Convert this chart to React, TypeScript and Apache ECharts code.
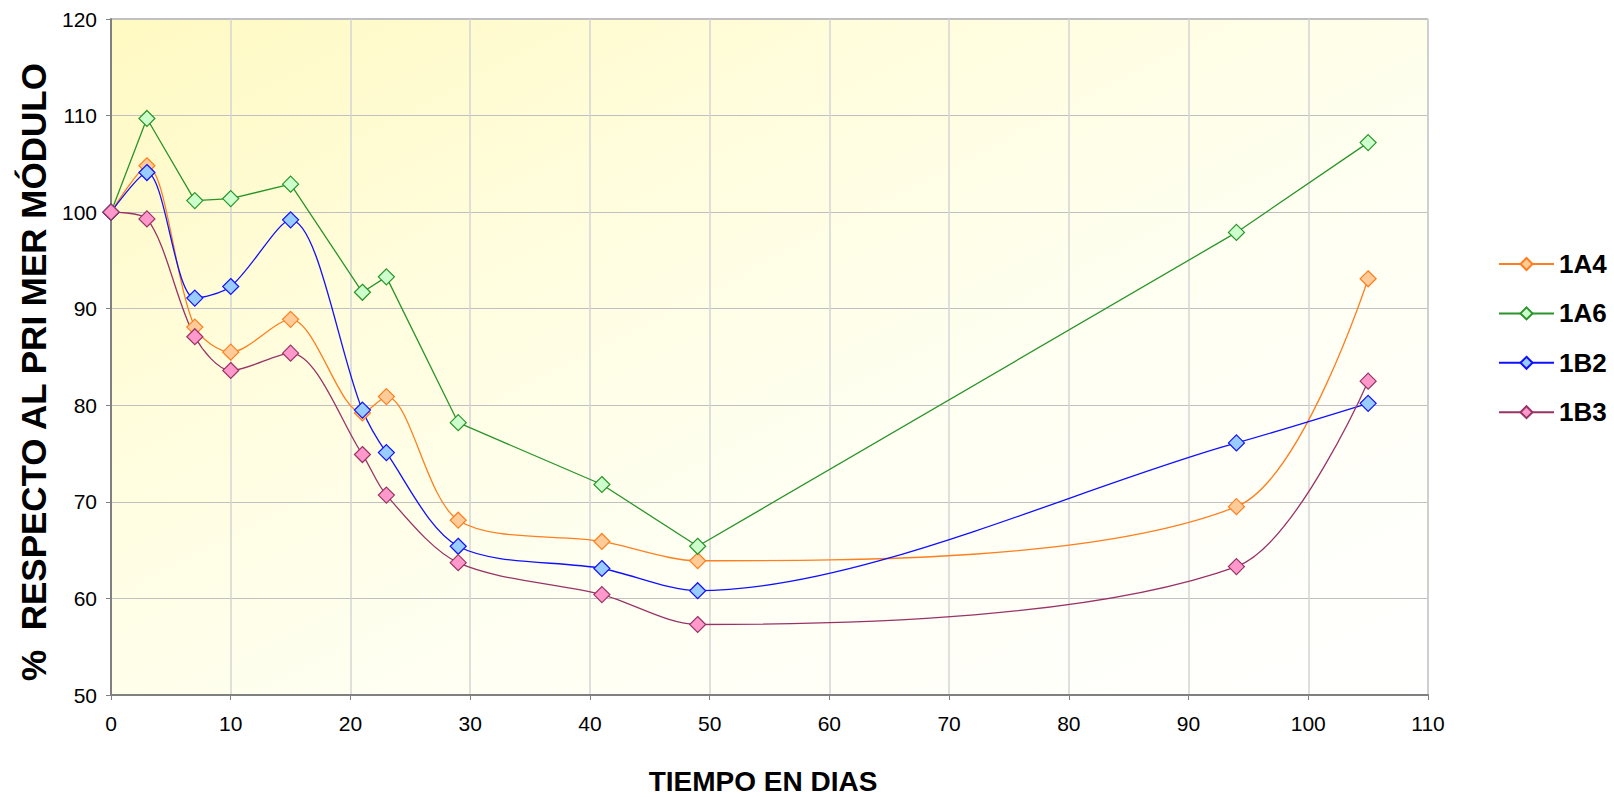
import React, { useEffect, useRef } from "react";
import * as echarts from "echarts";

const days = [0, 3, 7, 10, 15, 21, 23, 29, 41, 49, 94, 105];
const s1A4 = [100, 104.8, 88.1, 85.5, 88.9, 79.2, 80.9, 68.1, 65.9, 63.9, 69.5, 93.1];
const s1A6 = [100, 109.7, 101.2, 101.4, 102.9, 91.7, 93.3, 78.2, 71.8, 65.4, 97.9, 107.2];
const s1B2 = [100, 104.1, 91.1, 92.3, 99.2, 79.5, 75.1, 65.4, 63.1, 60.8, 76.1, 80.2];
const s1B3 = [100, 99.3, 87.1, 83.6, 85.4, 74.9, 70.7, 63.7, 60.4, 57.3, 63.3, 82.5];
const seriesNames = ["1A4", "1A6", "1B2", "1B3"];
const xTitle = "TIEMPO EN DIAS";
const yTitle = "%  RESPECTO AL PRI MER MÓDULO";

const FONT = '"Liberation Sans", Arial, sans-serif';

export default function App() {
  const ref = useRef<HTMLDivElement>(null);
  useEffect(() => {
    if (!ref.current) return;
    const chart = echarts.init(ref.current, null, { renderer: "svg" });
    const pair = (vals: number[]) => days.map((d, i) => [d, vals[i]]);
    const styles = [
      { line: "#FF7F1E", fill: "#FFCC99", border: "#FF7F1E", smooth: true, data: s1A4 },
      { line: "#2A942A", fill: "#CCFFCC", border: "#2A942A", smooth: false, data: s1A6 },
      { line: "#1010FF", fill: "#99CCFF", border: "#1010FF", smooth: true, data: s1B2 },
      { line: "#993366", fill: "#FF99CC", border: "#993366", smooth: true, data: s1B3 },
    ];
    chart.setOption({
      animation: false,
      backgroundColor: "#FFFFFF",
      grid: {
        left: 111,
        right: 186,
        top: 19,
        bottom: 102,
        show: true,
        borderColor: "#808080",
        borderWidth: 1,
        backgroundColor: new echarts.graphic.LinearGradient(0, 0, 1, 1, [
          { offset: 0, color: "#FFF9C2" },
          { offset: 0.3, color: "#FFFDDC" },
          { offset: 0.6, color: "#FFFFF2" },
          { offset: 1, color: "#FFFFFF" },
        ]),
      },
      legend: {
        orient: "vertical",
        left: 1493,
        top: 246,
        padding: 5,
        itemWidth: 55,
        itemHeight: 15,
        itemGap: 23.4,
        textStyle: { fontFamily: FONT, fontSize: 26, fontWeight: "bold", color: "#000", lineHeight: 24 },
        data: seriesNames,
      },
      xAxis: {
        type: "value",
        min: 0,
        max: 110,
        interval: 10,
        axisLine: { lineStyle: { color: "#808080", width: 2 } },
        axisTick: { length: 5, lineStyle: { color: "#808080" } },
        axisLabel: { fontFamily: FONT, fontSize: 21, color: "#000", margin: 18 },
        splitLine: { show: true, lineStyle: { color: "#D4D4D4", width: 1.5 } },
      },
      yAxis: {
        type: "value",
        min: 50,
        max: 120,
        interval: 10,
        axisLine: { show: true, lineStyle: { color: "#808080", width: 2 } },
        axisTick: { show: true, length: 5, lineStyle: { color: "#808080" } },
        axisLabel: { fontFamily: FONT, fontSize: 21, color: "#000", margin: 14 },
        splitLine: { show: true, lineStyle: { color: "#C0C0C0", width: 1 } },
      },
      graphic: [
        {
          type: "text",
          x: 33,
          y: 372,
          rotation: Math.PI / 2,
          style: {
            text: yTitle,
            font: `bold 35px ${FONT}`,
            fill: "#000",
            textAlign: "center",
            textVerticalAlign: "middle",
          },
        },
        {
          type: "text",
          x: 763,
          y: 781,
          style: {
            text: xTitle,
            font: `bold 28px ${FONT}`,
            fill: "#000",
            textAlign: "center",
            textVerticalAlign: "middle",
          },
        },
      ],
      series: styles.map((s, i) => ({
        name: seriesNames[i],
        type: "line",
        data: pair(s.data),
        smooth: s.smooth ? 0.3 : false,
        symbol: "diamond",
        symbolSize: 16,
        lineStyle: { color: s.line, width: 1.3 },
        itemStyle: { color: s.fill, borderColor: s.border, borderWidth: 1.2 },
        emphasis: { disabled: true },
      })),
    });
    return () => chart.dispose();
  }, []);
  return (
    <div
      ref={ref}
      style={{ position: "fixed", left: 0, top: 0, width: 1614, height: 797, background: "#fff" }}
    />
  );
}
